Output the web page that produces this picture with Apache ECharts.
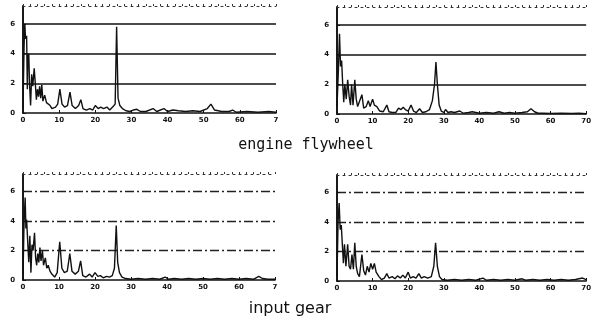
<!DOCTYPE html>
<html>
<head>
<meta charset="utf-8">
<script src="https://cdn.jsdelivr.net/npm/echarts@6/dist/echarts.min.js"></script>
<style>
  html, body {margin: 0; padding: 0; background: #fff;}
  #chart {width: 594px; height: 327px;}
</style>
</head>
<body>
<div id="chart"></div>
<script>
// spectra, [frequency, amplitude]
const flywheelLeft = [[0,0.3],[0.3,4.5],[0.5,6.0],[0.7,5.0],[1.0,5.2],[1.2,1.6],[1.35,3.8],[1.6,4.0],[1.8,2.0],[2.1,0.5],[2.4,2.6],[2.7,1.8],[3.1,3.0],[3.4,2.0],[3.7,0.9],[4.0,1.6],[4.3,1.1],[4.6,1.8],[4.9,1.0],[5.2,1.9],[5.5,0.8],[6.0,1.2],[6.5,0.7],[7.0,0.6],[7.5,0.5],[8.0,0.3],[9.0,0.4],[9.6,0.6],[10.2,1.6],[10.8,0.6],[11.5,0.4],[12.3,0.5],[13.0,1.4],[13.6,0.5],[14.5,0.3],[15.4,0.5],[16.0,0.9],[16.6,0.3],[17.5,0.2],[18.5,0.3],[19.3,0.2],[20.0,0.5],[20.8,0.3],[21.5,0.4],[22.3,0.3],[23.2,0.4],[24.0,0.2],[24.8,0.4],[25.5,0.6],[25.9,5.8],[26.3,1.0],[26.8,0.5],[27.5,0.3],[28.5,0.15],[29.5,0.1],[30.5,0.2],[31.5,0.25],[32.5,0.1],[34,0.1],[36,0.3],[37,0.1],[39,0.3],[40,0.1],[41.5,0.2],[43,0.15],[45,0.1],[47,0.15],[49,0.1],[51,0.3],[52,0.6],[53,0.2],[55,0.1],[57,0.1],[58,0.2],[59,0.05],[62,0.1],[65,0.05],[68,0.1],[70,0.05]];
const flywheelRight = [[0,0.5],[0.4,3.0],[0.7,5.4],[1.0,3.2],[1.3,3.6],[1.6,2.0],[1.9,0.8],[2.2,2.0],[2.6,1.0],[3.0,2.3],[3.4,1.2],[3.8,0.6],[4.1,2.0],[4.5,0.6],[5.0,2.3],[5.4,1.0],[5.8,0.5],[6.3,0.4],[7.0,1.3],[7.5,0.4],[8.2,0.5],[8.8,0.9],[9.3,0.5],[10.0,1.0],[10.5,0.6],[11.2,0.5],[12.0,0.2],[13.0,0.15],[14.0,0.6],[14.6,0.15],[15.5,0.1],[16.5,0.1],[17.3,0.4],[18.0,0.3],[18.6,0.45],[19.2,0.3],[20.0,0.2],[20.8,0.6],[21.5,0.2],[22.3,0.1],[23.2,0.35],[24.0,0.1],[25.0,0.15],[26.0,0.3],[26.8,0.9],[27.4,2.0],[27.8,3.5],[28.2,2.0],[28.7,0.6],[29.3,0.2],[30,0.1],[30.5,0.3],[31.2,0.1],[32,0.15],[33,0.1],[34.5,0.2],[35.5,0.05],[37,0.1],[38,0.15],[40,0.05],[42,0.1],[44,0.05],[45.5,0.15],[47,0.05],[48.5,0.1],[50,0.05],[52,0.1],[53.5,0.15],[54.5,0.35],[55.5,0.15],[56.5,0.05],[58,0.05],[60,0.03],[63,0.05],[66,0.03],[68,0.05],[70,0.02]];
const gearLeft = [[0,0.3],[0.3,4.0],[0.6,5.6],[0.8,3.5],[1.0,4.1],[1.3,4.0],[1.6,1.2],[1.9,3.0],[2.2,0.5],[2.5,2.4],[2.8,2.0],[3.2,3.2],[3.5,1.5],[3.8,1.0],[4.1,1.8],[4.4,1.2],[4.7,2.2],[5.0,1.3],[5.4,2.0],[5.7,1.0],[6.2,1.5],[6.6,0.8],[7.0,1.0],[7.5,0.6],[8.0,0.4],[8.8,0.2],[9.5,0.5],[10.2,2.6],[10.8,0.8],[11.5,0.5],[12.3,0.6],[13.0,1.8],[13.6,0.6],[14.5,0.4],[15.4,0.6],[16.0,1.3],[16.6,0.3],[17.5,0.2],[18.5,0.4],[19.2,0.2],[20.0,0.5],[20.8,0.25],[21.5,0.3],[22.3,0.15],[23.2,0.25],[24.0,0.2],[24.8,0.3],[25.4,0.8],[25.9,3.7],[26.3,1.2],[26.8,0.5],[27.5,0.2],[28.5,0.1],[30,0.05],[32,0.1],[34,0.05],[36,0.1],[38,0.05],[39.5,0.2],[40.5,0.05],[42,0.1],[44,0.05],[46,0.1],[48,0.05],[50,0.1],[52,0.05],[54,0.1],[56,0.05],[58,0.1],[60,0.05],[62,0.1],[64,0.05],[65.5,0.25],[66.5,0.1],[68,0.05],[70,0.05]];
const gearRight = [[0,0.3],[0.3,4.0],[0.6,5.3],[0.9,3.5],[1.2,3.8],[1.5,2.5],[1.8,1.2],[2.1,2.5],[2.5,1.0],[3.0,2.5],[3.4,1.0],[3.8,0.8],[4.2,1.8],[4.6,0.8],[5.0,2.6],[5.4,1.0],[5.8,0.5],[6.3,0.3],[7.0,1.8],[7.5,0.7],[8.0,0.4],[8.5,1.0],[9.0,0.6],[9.5,1.2],[10.0,0.8],[10.5,1.2],[11.0,0.6],[11.8,0.3],[12.5,0.1],[13.3,0.2],[14.0,0.5],[14.6,0.2],[15.5,0.3],[16.3,0.15],[17.0,0.35],[17.8,0.2],[18.5,0.4],[19.2,0.2],[20.0,0.6],[20.6,0.2],[21.4,0.3],[22.2,0.2],[23.0,0.5],[23.7,0.2],[24.5,0.3],[25.5,0.2],[26.5,0.3],[27.2,1.0],[27.7,2.6],[28.2,1.0],[28.8,0.3],[29.5,0.1],[31,0.05],[33,0.1],[35,0.05],[37,0.1],[39,0.05],[41,0.2],[42,0.05],[44,0.1],[46,0.05],[48,0.1],[50,0.05],[52,0.15],[53,0.05],[55,0.1],[57,0.05],[59,0.1],[61,0.05],[63,0.1],[65,0.05],[67,0.1],[69,0.2],[70,0.1]];

const panelData = [flywheelLeft, flywheelRight, gearLeft, gearRight];
const xTickLabels = [['0','10','20','30','40','50','60','7'], ['0','10','20','30','40','50','60','70']];
const yTickLabels = ['0', '2', '4', '6'];
const captions = ['engine flywheel', 'input gear'];

const ink = '#111';
const grids = [
  {left: 23, right: 318, top: 6, bottom: 214},
  {left: 337, right: 4, top: 7, bottom: 213},
  {left: 23, right: 319, top: 174, bottom: 47},
  {left: 337, right: 6, top: 175, bottom: 46},
];
const tickFont = {color: ink, fontSize: 7, fontWeight: 'bold', fontFamily: 'DejaVu Sans'};

const xAxis = [];
const yAxis = [];
const series = [];
grids.forEach((g, i) => {
  const labels = xTickLabels[i % 2];
  const gridStyle = i < 2
    ? {color: ['rgba(0,0,0,0)', ink, ink, ink, 'rgba(0,0,0,0)'], width: 1.7, type: 'solid'}
    : {color: ['rgba(0,0,0,0)', '#222', '#222', '#222', 'rgba(0,0,0,0)'], width: 1.3, type: [9, 3, 2, 3]};
  xAxis.push({
    gridIndex: i, type: 'value', min: 0, max: 70, interval: 10, position: 'bottom',
    axisLine: {onZero: false, lineStyle: {color: ink, width: 1.6}},
    axisTick: {inside: true, length: 3, lineStyle: {color: ink}},
    axisLabel: {...tickFont, margin: 4, formatter: v => labels[Math.round(v / 10)] ?? ''},
    splitLine: {show: false},
  });
  xAxis.push({
    gridIndex: i, type: 'value', min: 0, max: 70, interval: 2, position: 'top',
    axisLine: {onZero: false, lineStyle: {color: '#333', width: 1, type: [2, 4]}},
    axisTick: {inside: false, length: 2, lineStyle: {color: '#333'}},
    axisLabel: {show: false},
    splitLine: {show: false},
  });
  yAxis.push({
    gridIndex: i, type: 'value', min: 0, max: 7.2, interval: 2, position: 'left',
    axisLine: {show: true, lineStyle: {color: ink, width: 1.6}},
    axisTick: {show: true, inside: true, length: 3, lineStyle: {color: ink}},
    axisLabel: {...tickFont, margin: 8, showMaxLabel: false,
      formatter: v => (v % 2 === 0 ? yTickLabels[v / 2] ?? '' : '')},
    splitLine: {show: true, lineStyle: gridStyle},
  });
  yAxis.push({
    gridIndex: i, type: 'value', min: 0, max: 7.2, interval: 2, position: 'right',
    axisLine: {show: true, lineStyle: {color: ink, width: 1.6}},
    axisTick: {show: false}, axisLabel: {show: false}, splitLine: {show: false},
  });
  series.push({
    type: 'line', xAxisIndex: i * 2, yAxisIndex: i * 2, data: panelData[i],
    showSymbol: false, lineStyle: {color: ink, width: 1.4}, z: 3,
  });
});

const chart = echarts.init(document.getElementById('chart'), null, {renderer: 'canvas'});
chart.setOption({
  animation: false,
  backgroundColor: '#fff',
  grid: grids,
  xAxis,
  yAxis,
  series,
  graphic: [
    {type: 'text', x: 306, y: 145, style: {text: captions[0], fill: ink, font: '15px "DejaVu Sans Mono"', textAlign: 'center', textVerticalAlign: 'middle'}},
    {type: 'text', x: 290, y: 309, style: {text: captions[1], fill: ink, font: '16px "DejaVu Sans"', textAlign: 'center', textVerticalAlign: 'middle'}},
  ],
});
</script>
</body>
</html>
